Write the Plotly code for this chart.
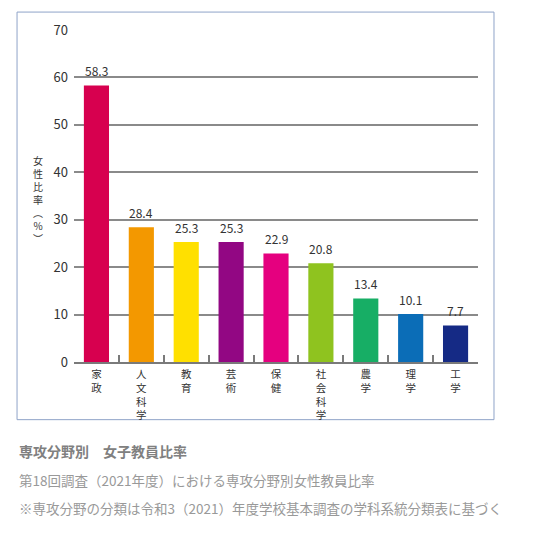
import plotly.graph_objects as go

# ==================== Data ====================
fields = ['家政', '人文科学', '教育', '芸術', '保健', '社会科学', '農学', '理学', '工学']
ratio = [58.3, 28.4, 25.3, 25.3, 22.9, 20.8, 13.4, 10.1, 7.7]
bar_colors = ['#D7004F', '#F39800', '#FFE000', '#920783', '#E5007F',
              '#8FC31F', '#17AE65', '#0B6DB7', '#152A85']

title_main = '専攻分野別　女子教員比率'
title_sub = '第18回調査（2021年度）における専攻分野別女性教員比率'
title_note = '※専攻分野の分類は令和3（2021）年度学校基本調査の学科系統分類表に基づく'
y_title = '女性比率︵%︶'

FONT = 'Noto Sans CJK JP'

# vertical labels, one character per line
tick_text = ['<br>'.join(list(f)) for f in fields]

# ==================== Figure ====================
fig = go.Figure()

fig.add_trace(go.Bar(
    x=fields,
    y=ratio,
    marker=dict(color=bar_colors, line=dict(width=0)),
    showlegend=False,
    hovertemplate='%{x}: %{y}%<extra></extra>',
))

# value labels above bars
for f, v in zip(fields, ratio):
    fig.add_annotation(text=f'{v:.1f}', x=f, y=v, xref='x', yref='y',
                       xanchor='center', yanchor='bottom', yshift=4,
                       showarrow=False,
                       font=dict(family=FONT, size=12, color='#333333'))

# ==================== Layout Settings ====================
# page body adds 8px offset, margins compensate
fig.update_layout(
    width=546,
    height=536,
    margin=dict(l=66, r=76, t=20, b=182),
    paper_bgcolor='white',
    plot_bgcolor='white',
    bargap=0.44,
    font=dict(family=FONT, color='#333333'),
    xaxis=dict(
        tickmode='array',
        tickvals=fields,
        ticktext=tick_text,
        tickfont=dict(family=FONT, size=10.5, color='#333333'),
        ticklabelstandoff=2,
        showline=True,
        linecolor='#7a7a7a',
        linewidth=1.5,
        ticks='inside',
        ticklen=7,
        tickwidth=1.5,
        tickcolor='#7a7a7a',
        tickson='boundaries',
        showgrid=False,
        fixedrange=True,
    ),
    yaxis=dict(
        range=[0, 70],
        dtick=10,
        showgrid=True,
        gridcolor='#8a8a8a',
        gridwidth=1.5,
        zeroline=False,
        showline=False,
        ticks='',
        ticklabelstandoff=5,
        tickfont=dict(family=FONT, size=13, color='#333333'),
        fixedrange=True,
    ),
)

# outer frame
fig.add_shape(type='rect', xref='paper', yref='paper',
              x0=-0.141, x1=1.0396, y0=-0.1737, y1=1.054,
              line=dict(color='#8FA3C8', width=1), fillcolor='rgba(0,0,0,0)',
              layer='below')

# vertical y-axis title
fig.add_annotation(
    text='<br>'.join(list(y_title)),
    xref='paper', yref='paper', x=-0.089, y=0.49,
    xanchor='center', yanchor='middle', showarrow=False,
    font=dict(family=FONT, size=10, color='#333333'),
)

# captions under the chart
fig.add_annotation(text='<b>' + title_main + '</b>', xref='paper', yref='paper',
                   x=-0.141, y=-0.2695, xanchor='left', yanchor='middle',
                   showarrow=False, font=dict(family=FONT, size=14, color='#808080'))
fig.add_annotation(text=title_sub, xref='paper', yref='paper',
                   x=-0.141, y=-0.356, xanchor='left', yanchor='middle',
                   showarrow=False, font=dict(family=FONT, size=13.5, color='#999999'))
fig.add_annotation(text=title_note, xref='paper', yref='paper',
                   x=-0.141, y=-0.44, xanchor='left', yanchor='middle',
                   showarrow=False, font=dict(family=FONT, size=13.5, color='#999999'))

fig.write_html('out.html')
